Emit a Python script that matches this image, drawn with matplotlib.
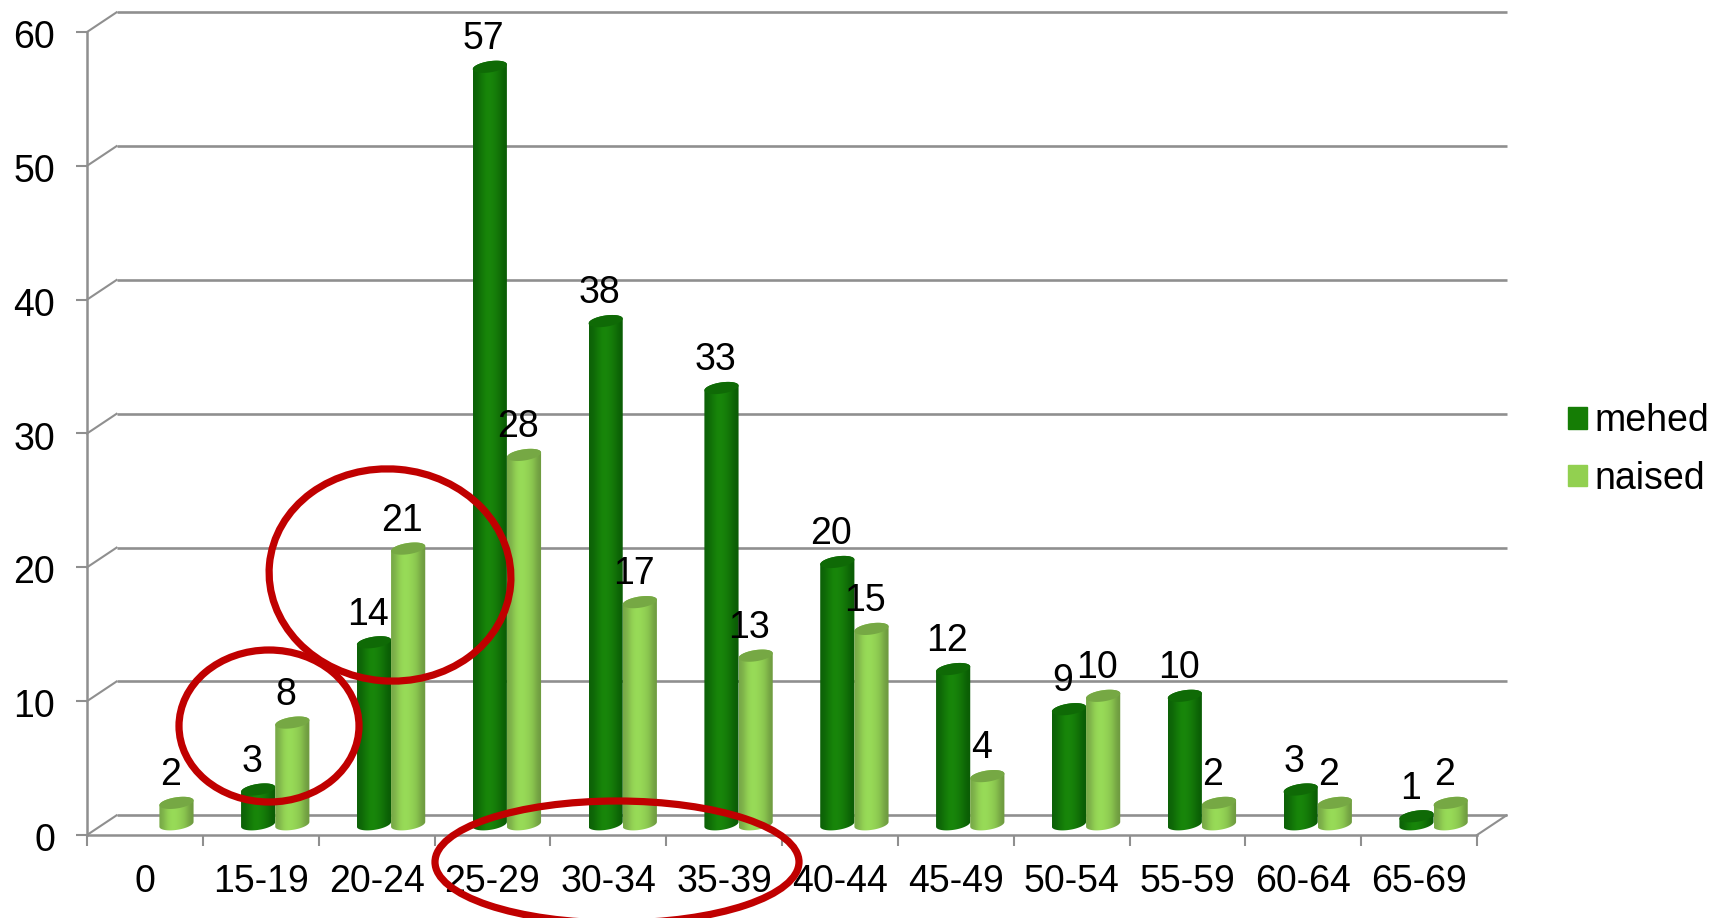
import numpy as np
from matplotlib import pyplot as plt
from matplotlib.patches import Ellipse, Patch, Polygon
from matplotlib.transforms import ScaledTranslation

plt.rcParams['font.family'] = ['Liberation Sans', 'DejaVu Sans']

categories = ['0', '15-19', '20-24', '25-29', '30-34', '35-39', '40-44',
              '45-49', '50-54', '55-59', '60-64', '65-69']
mehed = [0, 3, 14, 57, 38, 33, 20, 12, 9, 10, 3, 1]
naised = [2, 8, 21, 28, 17, 13, 15, 4, 10, 2, 2, 2]
yticks = [0, 10, 20, 30, 40, 50, 60]

W, H = 1712, 918
GRAY = '#8f8f8f'
FS = 27
# oblique depth of the fake 3d box, in data units
DX, DY = 0.255, 1.47
BASE = 0.40
BAR_W = 0.295

fig = plt.figure(figsize=(W / 100, H / 100), dpi=100)
ax = fig.add_axes([87 / W, 1 - 835 / H, 1390 / W, 803 / H])
ax.set_xlim(0, 12)
ax.set_ylim(0, 60)

for s in ['top', 'right']:
    ax.spines[s].set_visible(False)
for s in ['left', 'bottom']:
    ax.spines[s].set_color(GRAY)
    ax.spines[s].set_linewidth(1.8)

ax.set_yticks(yticks)
ax.set_xticks(range(13))
ax.set_xticklabels([])
ax.set_xticks(np.arange(12) + 0.5, categories, minor=True)
ax.tick_params(axis='both', which='major', length=8, width=1.5, color=GRAY,
               labelsize=FS, pad=15)
ax.tick_params(axis='x', which='minor', length=0, labelsize=FS, pad=21)
# the y labels sit a little under their ticks
for lab in ax.get_yticklabels():
    lab.set_transform(lab.get_transform() + ScaledTranslation(0, -1.5 / 72, fig.dpi_scale_trans))

# back wall lines and the slanted lines to the front
for v in yticks:
    ax.plot([DX, 12 + DX], [v + DY, v + DY], color=GRAY, lw=1.9, clip_on=False, zorder=1,
            solid_capstyle='butt')
    ax.plot([0, DX], [v, v + DY], color=GRAY, lw=1.5, clip_on=False, zorder=1)
ax.plot([12, 12 + DX], [0, DY], color=GRAY, lw=1.5, clip_on=False, zorder=1)


def cylinder(xc, val, colors, cap, z):
    top = BASE + val
    t = np.linspace(np.pi, 2 * np.pi, 40)
    tt = np.linspace(0, np.pi, 40)
    rx, ry = BAR_W / 2, 0.42
    tilt = 1.2  # ellipses lean up to the right
    # bottom edge stays a bit above the top one's zero point
    bottom = BASE + 0.4
    xs = np.r_[xc + rx * np.cos(t), xc + rx * np.cos(tt)]
    ys = np.r_[bottom + ry * np.sin(t) + tilt * rx * np.cos(t),
               top + ry * np.sin(tt) + tilt * rx * np.cos(tt)]
    outline = Polygon(np.c_[xs, ys], closed=True, transform=ax.transData,
                      fc='none', ec='none')
    ax.add_patch(outline)
    grad = np.array(colors)[None, :, :]
    im = ax.imshow(grad, extent=[xc - rx, xc + rx, BASE - ry - 1, top + ry + 1],
                   aspect='auto', interpolation='bicubic', zorder=z, origin='lower')
    im.set_clip_path(outline)
    a = np.linspace(0, 2 * np.pi, 60)
    capxy = np.c_[xc + rx * np.cos(a),
                  top + ry * np.sin(a) + tilt * rx * np.cos(a)]
    ax.add_patch(Polygon(capxy, closed=True, fc=cap, ec='none', zorder=z + 0.1, clip_on=False))


green_grad = [(.05, .38, .03), (.07, .47, .03), (.10, .54, .04), (.09, .51, .04),
              (.07, .45, .03), (.04, .36, .02)]
light_grad = [(.47, .66, .28), (.58, .83, .33), (.60, .87, .35), (.58, .83, .33),
              (.54, .77, .31), (.43, .60, .25)]

for i in range(len(categories)):
    xm = i + 0.5 + 0.125 - BAR_W / 2
    xn = i + 0.5 + 0.125 + BAR_W / 2
    if mehed[i] > 0:
        cylinder(xm, mehed[i], green_grad, '#0f6a06', 3)
        ax.annotate(str(mehed[i]), (xm, mehed[i] + BASE), xytext=(-4.5, 7),
                    textcoords='offset points', ha='center', va='bottom',
                    fontsize=FS, zorder=6, annotation_clip=False)
    cylinder(xn, naised[i], light_grad, '#76a844', 4)
    ax.annotate(str(naised[i]), (xn, naised[i] + BASE), xytext=(-4.5, 7),
                textcoords='offset points', ha='center', va='bottom',
                fontsize=FS, zorder=6, annotation_clip=False)

ax.set_xlim(0, 12)
ax.set_ylim(0, 60)

fig.legend(handles=[Patch(color='#157d05'), Patch(color='#92d050')],
           labels=['mehed', 'naised'], loc='center left',
           bbox_to_anchor=(1568 / W, 1 - 450 / H), frameon=False, fontsize=FS,
           handlelength=0.5, handleheight=0.5, handletextpad=0.2,
           labelspacing=0.58, borderpad=0, borderaxespad=0)

# hand drawn red rings, placed in pixels over the whole figure
over = fig.add_axes([0, 0, 1, 1])
over.set_xlim(0, W)
over.set_ylim(H, 0)
over.axis('off')
rings = [(269, 726, 180, 152, 0), (390, 575, 242, 212, 5), (617, 862, 364, 122, 0)]
for cx, cy, w, h, ang in rings:
    over.add_patch(Ellipse((cx, cy), w, h, angle=ang, fc='none', ec='#c00000', lw=5.2))

fig.savefig('out.png', dpi=100)
